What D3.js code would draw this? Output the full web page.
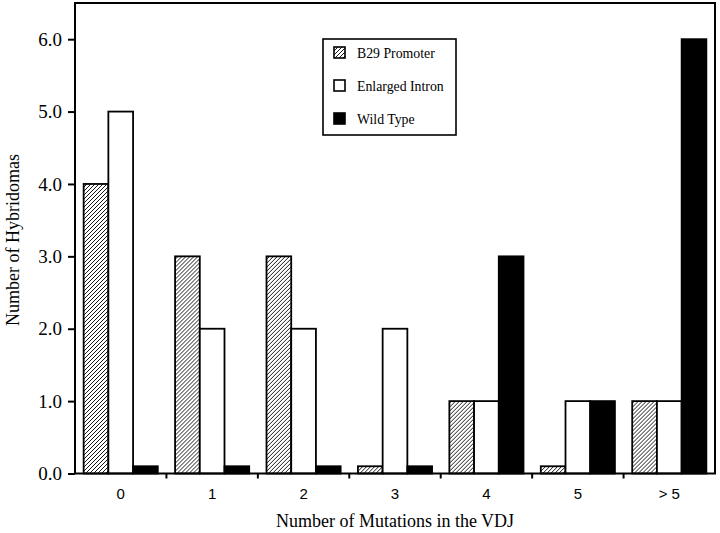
<!DOCTYPE html>
<html>
<head>
<meta charset="utf-8">
<script src="https://cdn.jsdelivr.net/npm/d3@7"></script>
<style>
  body { margin: 0; background: #fff; }
  svg { display: block; }
</style>
</head>
<body>
<svg id="chart" width="720" height="533"></svg>
<script>
const categories = ["0", "1", "2", "3", "4", "5", "> 5"];
const seriesNames = ["B29 Promoter", "Enlarged Intron", "Wild Type"];
const b29Promoter = [4, 3, 3, 0.1, 1, 0.1, 1];
const enlargedIntron = [5, 2, 2, 2, 1, 1, 1];
const wildType = [0.1, 0.1, 0.1, 0.1, 3, 1, 6];
const yTicks = [0, 1, 2, 3, 4, 5, 6];

const series = [b29Promoter, enlargedIntron, wildType];
const fills = ["url(#hatch)", "#fff", "#000"];

const svg = d3.select("#chart");
const mLeft = 75, mRight = 715, mTop = 3, mBottom = 473.5;

const defs = svg.append("defs");
const pat = defs.append("pattern")
  .attr("id", "hatch")
  .attr("patternUnits", "userSpaceOnUse")
  .attr("width", 4).attr("height", 4);
pat.append("rect").attr("width", 4).attr("height", 4).attr("fill", "#fff");
pat.append("path")
  .attr("d", "M-1,1 l2,-2 M0,4 l4,-4 M3,5 l2,-2")
  .attr("stroke", "#000").attr("stroke-width", 0.9);

const x = d3.scaleBand().domain(categories).range([mLeft, mRight]);
const xs = d3.scaleBand().domain(seriesNames).range([0, x.bandwidth()]).paddingOuter(0.35).paddingInner(0);
const y = d3.scaleLinear().domain([0, 6.5]).range([mBottom, mTop]);

// bars
const groups = svg.append("g").selectAll("g")
  .data(categories)
  .join("g")
  .attr("transform", d => `translate(${x(d)},0)`);

groups.selectAll("rect")
  .data((d, i) => series.map((s, j) => ({ name: seriesNames[j], val: s[i], j })))
  .join("rect")
  .attr("x", d => xs(d.name))
  .attr("y", d => y(d.val))
  .attr("width", xs.bandwidth())
  .attr("height", d => mBottom - y(d.val))
  .attr("fill", d => fills[d.j])
  .attr("stroke", "#000")
  .attr("stroke-width", 1.8);

// frame
svg.append("rect")
  .attr("x", mLeft).attr("y", mTop)
  .attr("width", mRight - mLeft).attr("height", mBottom - mTop)
  .attr("fill", "none").attr("stroke", "#000").attr("stroke-width", 2);

// y axis
const yAxis = svg.append("g")
  .attr("transform", `translate(${mLeft},0)`)
  .call(d3.axisLeft(y).tickValues(yTicks).tickFormat(d3.format(".1f")).tickSize(7).tickPadding(6));
yAxis.select(".domain").remove();
yAxis.selectAll("line").attr("stroke-width", 2);
yAxis.selectAll("text")
  .attr("font-family", "Liberation Serif, Times New Roman, serif")
  .attr("font-size", 19).attr("fill", "#000");

// x axis ticks at group boundaries
const bounds = categories.slice(1).map(c => x(c));
svg.append("g").selectAll("line")
  .data(bounds)
  .join("line")
  .attr("x1", d => d).attr("x2", d => d)
  .attr("y1", mBottom).attr("y2", mBottom + 5)
  .attr("stroke", "#000").attr("stroke-width", 2);

svg.append("g").selectAll("text")
  .data(categories)
  .join("text")
  .attr("x", d => x(d) + x.bandwidth() / 2)
  .attr("y", 499)
  .attr("text-anchor", "middle")
  .attr("font-family", "Liberation Sans, Arial, sans-serif")
  .attr("font-size", 15)
  .text(d => d);

// axis titles
svg.append("text")
  .attr("x", 395).attr("y", 527)
  .attr("text-anchor", "middle")
  .attr("font-family", "Liberation Serif, Times New Roman, serif")
  .attr("font-size", 18)
  .text("Number of Mutations in the VDJ");

svg.append("text")
  .attr("transform", "translate(19,240) rotate(-90)")
  .attr("text-anchor", "middle")
  .attr("font-family", "Liberation Serif, Times New Roman, serif")
  .attr("font-size", 18)
  .text("Number of Hybridomas");

// legend
const legend = svg.append("g");
legend.append("rect")
  .attr("x", 323).attr("y", 39).attr("width", 133).attr("height", 96)
  .attr("fill", "#fff").attr("stroke", "#000").attr("stroke-width", 1.6);
const items = legend.selectAll("g.item")
  .data(seriesNames)
  .join("g")
  .attr("transform", (d, i) => `translate(334,${47 + i * 33})`);
items.append("rect")
  .attr("width", 11).attr("height", 11)
  .attr("fill", (d, i) => fills[i])
  .attr("stroke", "#000").attr("stroke-width", 1.6);
items.append("text")
  .attr("x", 23).attr("y", 10.5)
  .attr("font-family", "Liberation Serif, Times New Roman, serif")
  .attr("font-size", 13.8)
  .text(d => d);
</script>
</body>
</html>
